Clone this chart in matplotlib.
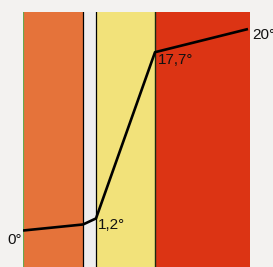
import matplotlib.pyplot as plt

plt.rcParams['font.family'] = ['Liberation Sans', 'DejaVu Sans']

# layer boundaries (horizontal position) and temperatures at each boundary
bounds = [0, 60, 73, 132, 227]
layer_colors = ['#e5733a', '#eeeeee', '#f2e27a', '#dc3414']
pos = [0, 60, 73, 132, 225]
temps = [0, 0.6, 1.2, 17.7, 20]
labels = ['0°', None, '1,2°', '17,7°', '20°']

W, H = 273, 267
fig = plt.figure(figsize=(W / 100, H / 100), dpi=100, facecolor='#f3f2f0')
ax = fig.add_axes([23 / W, 0, 227 / W, (H - 12) / H])
ax.set_xlim(0, 227)
ax.set_ylim(-3.62, 21.69)
ax.axis('off')

for i, c in enumerate(layer_colors):
    ax.axvspan(bounds[i], bounds[i + 1], color=c, lw=0, zorder=0)

ax.axvline(0, color='#6aa84f', lw=1.6, zorder=1)
ax.axvline(bounds[1], color='black', lw=0.9, zorder=1)
ax.axvline(bounds[2], color='black', lw=0.9, zorder=1)
ax.axvline(bounds[3], color='#1a2a10', lw=1.0, zorder=1)

ax.plot(pos, temps, color='black', lw=1.9, zorder=2, solid_capstyle='butt')

fs = 11
ax.text(-1.2, temps[0] - 0.2, labels[0], ha='right', va='top', fontsize=fs,
        color='#111111', clip_on=False)
ax.text(pos[2] + 2, temps[2] + 0.05, labels[2], ha='left', va='top', fontsize=fs,
        color='#111111', clip_on=False)
ax.text(pos[3] + 3, temps[3] - 0.1, labels[3], ha='left', va='top', fontsize=fs,
        color='#111111', clip_on=False)
ax.text(pos[4] + 4, temps[4] + 0.1, labels[4], ha='left', va='top', fontsize=fs,
        color='#111111', clip_on=False)

fig.savefig('out.png', dpi=100, facecolor=fig.get_facecolor())
